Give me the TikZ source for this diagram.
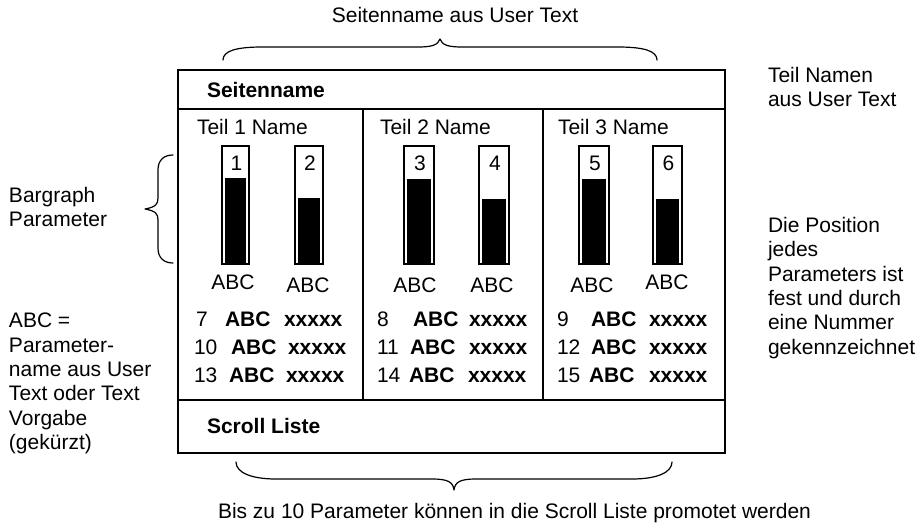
\documentclass[tikz,border=0pt]{standalone}
\usepackage{fontspec}
\setmainfont{Liberation Sans}
\begin{document}
\begin{tikzpicture}[x=1pt,y=-1pt,
  txt/.style={inner sep=0pt, outer sep=0pt, font=\fontsize{21}{24.4}\selectfont},
  boldtxt/.style={inner sep=0pt, outer sep=0pt, font=\fontsize{21}{24.4}\selectfont\bfseries},
  multi/.style={txt, align=left, anchor=north west},
  frame/.style={draw=black, line width=1.5pt},
  bracepath/.style={draw=black, line width=1.2pt, line cap=round, line join=round},
  baroutline/.style={draw=black, line width=1.5pt, fill=white}]

\useasboundingbox[fill=white] (0,0) rectangle (918,528);

% main frame
\draw[frame] (178,70) rectangle (725,453);
\draw[frame] (178,109) -- (725,109);
\draw[frame] (178,400) -- (725,400);
\draw[frame] (363,109) -- (363,400);
\draw[frame] (543,109) -- (543,400);

% header / footer
\node[boldtxt, anchor=base west] (hdr) at (207,97) {Seitenname};
\node[boldtxt, anchor=base west] (scroll) at (207,433) {Scroll Liste};

% part names
\node[txt, anchor=base west] (t1) at (197,134.5) {Teil 1 Name};
\node[txt, anchor=base west] (t2) at (380,134.5) {Teil 2 Name};
\node[txt, anchor=base west] (t3) at (558,134.5) {Teil 3 Name};

% bargraphs
\foreach \xa/\xb/\ft/\n in {222/249/178/1, 295/323/198/2, 404/434/179/3, 479/509/199/4, 579/609/179/5, 653/682/199/6}{
  \draw[baroutline] (\xa,146) rectangle (\xb,264);
  \fill[black] (\xa+3,\ft) rectangle (\xb-3,264);
  \node[txt, anchor=base] (num\n) at ({(\xa+\xb)/2+1},170) {\n};
}

% bar labels
\foreach \x/\y/\n in {233/289/1, 308/292/2, 415/292/3, 492/292/4, 592/292/5, 667/289/6}{
  \node[txt, anchor=base] (abc\n) at (\x,\y) {ABC};
}

% parameter rows
\foreach \n/\xn/\xa/\xx/\y in {7/196/225/284/326, 10/194/231/288/354, 13/194/229/286/382,
                               8/377/413/469/326, 11/377/410/469/354, 14/377/409/468/382,
                               9/557/591/649/326, 12/557/591/649/354, 15/557/589/649/382}{
  \node[txt, anchor=base west] (rn\n) at (\xn,\y) {\n};
  \node[boldtxt, anchor=base west] (ra\n) at (\xa,\y) {ABC};
  \node[boldtxt, anchor=base west] (rx\n) at (\xx,\y) {xxxxx};
}

% annotations
\node[txt, anchor=base] (topnote) at (455,22) {Seitenname aus User Text};
\node[multi] (rightnote1) at (768,67) {Teil Namen\\aus User Text};
\node[multi] (rightnote2) at (768,217) {Die Position\\jedes\\Parameters ist\\fest und durch\\eine Nummer\\gekennzeichnet};
\node[multi] (leftnote1) at (9,187) {Bargraph\\Parameter};
\node[multi] (leftnote2) at (9,313) {ABC =\\Parameter-\\name aus User\\Text oder Text\\Vorgabe\\(gekürzt)};
\node[txt, anchor=base west] (bottomnote) at (218,518) {Bis zu 10 Parameter können in die Scroll Liste promotet werden};

% top brace
\draw[bracepath] (223,60) .. controls (223,51) and (236,47) .. (262,47)
  -- (418,47) .. controls (432,47) and (438,45) .. (440,39)
  .. controls (442,45) and (448,47) .. (462,47)
  -- (618,47) .. controls (644,47) and (657,51) .. (657,60);

% left brace
\draw[bracepath] (173,155) .. controls (164,155) and (158,160) .. (158,170)
  -- (158,198) .. controls (158,204) and (156,207) .. (145,209)
  .. controls (156,211) and (158,214) .. (158,220)
  -- (158,248) .. controls (158,258) and (164,263) .. (173,263);

% bottom brace
\draw[bracepath] (236,462) .. controls (236,472) and (250,479) .. (276,479)
  -- (432,479) .. controls (448,479) and (453,482) .. (454,490)
  .. controls (455,482) and (460,479) .. (476,479)
  -- (632,479) .. controls (658,479) and (672,472) .. (672,462);
\end{tikzpicture}
\end{document}
